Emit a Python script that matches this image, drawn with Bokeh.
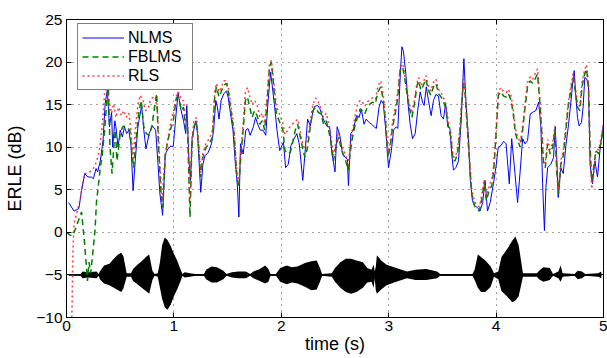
from bokeh.plotting import figure
from bokeh.models import LinearAxis, Range1d, Legend, LegendItem, FixedTicker
from bokeh.embed import file_html
from bokeh.resources import INLINE

# ---------------- data ----------------
x_ticks = [0, 1, 2, 3, 4, 5]
y_ticks = [-10, -5, 0, 5, 10, 15, 20, 25]
y_tick_labels = {-10: "\u221210", -5: "\u22125", 0: "0", 5: "5", 10: "10", 15: "15", 20: "20", 25: "25"}

nlms_t = [0.02, 0.07, 0.115, 0.14, 0.17, 0.2, 0.23, 0.25, 0.275, 0.29, 0.315, 0.34, 0.36, 0.38, 0.40, 0.42,
          0.43, 0.45, 0.46, 0.48, 0.50, 0.52, 0.54, 0.56, 0.58, 0.60, 0.62, 0.64, 0.665, 0.70, 0.72, 0.74,
          0.77, 0.80, 0.83, 0.85, 0.87, 0.895, 0.92, 0.945, 0.965, 0.994,
          1.02, 1.04, 1.06, 1.09, 1.11, 1.12, 1.14, 1.155, 1.17, 1.185, 1.205, 1.22, 1.25, 1.27, 1.29, 1.32,
          1.35, 1.37, 1.39, 1.405, 1.42, 1.44, 1.465, 1.49, 1.505, 1.525, 1.55, 1.57, 1.59, 1.605, 1.62,
          1.645, 1.67, 1.69, 1.71, 1.74, 1.76, 1.78, 1.805, 1.83, 1.855, 1.875, 1.9, 1.915, 1.94, 1.96,
          1.985, 2.02, 2.04, 2.065, 2.09, 2.12, 2.145, 2.167, 2.2, 2.22, 2.245, 2.27, 2.29, 2.31, 2.34,
          2.36, 2.385, 2.405, 2.43, 2.45, 2.47, 2.5, 2.52, 2.545, 2.57, 2.595, 2.615, 2.625, 2.647, 2.67,
          2.7, 2.725, 2.745, 2.77, 2.79, 2.818, 2.84, 2.865, 2.885, 2.91, 2.93, 2.95, 2.97, 2.998,
          3.025, 3.045, 3.07, 3.085, 3.11, 3.123, 3.138, 3.16, 3.18, 3.2, 3.222, 3.247, 3.27, 3.293,
          3.315, 3.33, 3.35, 3.37, 3.395, 3.417, 3.44, 3.463, 3.488, 3.51, 3.53, 3.55, 3.57, 3.587,
          3.603, 3.625, 3.65, 3.675, 3.69, 3.70, 3.72, 3.742, 3.76, 3.78, 3.8, 3.828, 3.85, 3.875,
          3.897, 3.92, 3.945, 3.975, 4.0, 4.02, 4.046, 4.07, 4.093, 4.123, 4.145, 4.176, 4.2, 4.225,
          4.247, 4.27, 4.293, 4.318, 4.34, 4.37, 4.396, 4.417, 4.433, 4.45, 4.464, 4.48, 4.51, 4.535,
          4.55, 4.566, 4.578, 4.603, 4.625, 4.65, 4.675, 4.696, 4.71, 4.727, 4.743, 4.758, 4.773, 4.795,
          4.81, 4.826, 4.845, 4.86, 4.875, 4.897, 4.92, 4.944, 4.97, 5.0]
nlms_v = [3.5, 2.5, 2.8, 4.9, 6.9, 6.5, 6.5, 6.3, 7.5, 7.1, 8.4, 10.8, 15.1, 16.7, 12.4, 14.1,
          10.0, 13.1, 12.4, 10.0, 12.0, 11.2, 12.4, 11.6, 12.0, 10.4, 4.9, 8.4, 12.4, 14.9, 12.0, 9.8,
          11.6, 12.5, 12.0, 8.4, 4.5, 2.0, 9.2, 9.8, 10.1, 10.1,
          13.9, 16.4, 14.7, 13.1, 11.6, 14.9, 8.4, 6.1, 11.2, 12.0, 13.1, 11.6, 4.7, 8.0, 9.0, 9.4,
          10.4, 12.0, 15.5, 14.7, 13.3, 15.5, 16.3, 16.6, 15.9, 14.1, 12.0, 8.4, 5.7, 1.8, 10.4,
          9.2, 12.0, 12.2, 11.4, 12.4, 13.5, 12.7, 12.0, 12.0, 11.4, 15.1, 18.8, 17.3, 14.5, 12.0,
          9.6, 10.6, 7.6, 8.0, 10.2, 11.0, 11.6, 10.4, 6.1, 9.2, 13.3, 12.5, 13.9, 14.8, 14.9,
          14.5, 13.5, 12.9, 12.4, 12.4, 9.4, 7.1, 12.4, 11.4, 9.2, 8.8, 8.6, 5.5, 11.6, 12.0,
          13.7, 13.5, 14.5, 12.7, 13.3, 12.9, 12.7, 12.4, 12.2, 14.7, 15.5, 15.1, 12.4, 7.6,
          9.6, 12.0, 12.4, 12.2, 19.0, 21.8, 21.2, 18.6, 15.1, 12.7, 11.0, 11.6, 14.3, 16.5,
          15.3, 14.9, 17.1, 15.5, 13.7, 15.5, 16.2, 16.0, 13.7, 13.3, 15.1, 12.4, 12.2, 9.2,
          7.3, 7.6, 8.4, 13.1, 17.5, 20.4, 15.1, 11.2, 6.1, 3.7, 3.1, 2.9, 2.5, 3.5,
          6.1, 2.5, 3.5, 5.7, 7.8, 10.0, 10.2, 10.7, 10.4, 5.7, 11.0, 6.9, 3.5, 7.3,
          11.0, 10.4, 10.8, 13.9, 14.1, 14.3, 15.3, 12.4, 5.7, 0.2, 5.3, 7.6, 8.0, 8.8,
          12.4, 8.4, 4.1, 7.6, 6.9, 10.2, 12.7, 15.3, 17.1, 19.0, 15.9, 13.5, 12.5, 12.9,
          14.7, 18.2, 18.0, 17.1, 8.0, 5.7, 8.4, 6.5, 10.0, 12.7]

fblms_t = [0.0, 0.03, 0.06, 0.10, 0.14, 0.17, 0.195, 0.21, 0.225, 0.24, 0.266, 0.28, 0.295, 0.315, 0.33,
           0.355, 0.378, 0.39, 0.405, 0.424, 0.44, 0.455, 0.47, 0.486, 0.50, 0.523, 0.547, 0.57, 0.59,
           0.61, 0.625, 0.647, 0.672, 0.695, 0.72, 0.743, 0.77, 0.795, 0.82, 0.84, 0.857, 0.88, 0.897,
           0.92, 0.945, 0.966, 0.994, 1.025, 1.05, 1.07, 1.09, 1.11, 1.127, 1.14, 1.15, 1.167, 1.185,
           1.21, 1.23, 1.25, 1.27, 1.30, 1.33, 1.36, 1.38, 1.396, 1.42, 1.44, 1.465, 1.49, 1.51, 1.535,
           1.557, 1.576, 1.59, 1.605, 1.62, 1.645, 1.666, 1.685, 1.706, 1.728, 1.752, 1.774, 1.80,
           1.824, 1.845, 1.867, 1.89, 1.907, 1.93, 1.954, 1.98, 2.015, 2.034, 2.06, 2.084, 2.11, 2.13,
           2.152, 2.177, 2.2, 2.22, 2.245, 2.27, 2.294, 2.32, 2.344, 2.37, 2.393, 2.418, 2.44, 2.46,
           2.486, 2.508, 2.533, 2.555, 2.576, 2.6, 2.623, 2.64, 2.663, 2.684, 2.709, 2.734, 2.755,
           2.777, 2.8, 2.827, 2.85, 2.876, 2.9, 2.926, 2.95, 2.97, 2.993, 3.014, 3.036, 3.06, 3.085,
           3.107, 3.13, 3.148, 3.17, 3.19, 3.216, 3.24, 3.262, 3.278, 3.3, 3.324, 3.346, 3.37, 3.392,
           3.417, 3.44, 3.463, 3.488, 3.51, 3.53, 3.556, 3.578, 3.6, 3.618, 3.64, 3.662, 3.68, 3.696,
           3.711, 3.733, 3.754, 3.773, 3.8, 3.82, 3.845, 3.866, 3.888, 3.91, 3.934, 3.96, 3.978, 4.0,
           4.021, 4.046, 4.07, 4.093, 4.114, 4.14, 4.16, 4.18, 4.2, 4.225, 4.247, 4.27, 4.293, 4.318,
           4.34, 4.362, 4.386, 4.408, 4.427, 4.442, 4.458, 4.48, 4.504, 4.526, 4.547, 4.566, 4.582,
           4.603, 4.625, 4.65, 4.671, 4.696, 4.718, 4.736, 4.758, 4.78, 4.8, 4.82, 4.842, 4.86, 4.875,
           4.89, 4.913, 4.93, 4.956, 4.98, 5.0]
fblms_v = [0.0, -0.3, -0.4, 1.0, 2.4, -1.5, -5.7, -3.5, -4.8, -3.0, 0.3, 3.7, 5.3, 7.6, 8.8,
           12.0, 15.9, 17.0, 10.0, 6.9, 10.0, 12.0, 8.4, 10.0, 11.6, 12.4, 12.5, 12.2, 12.0,
           9.2, 7.6, 10.8, 13.9, 15.5, 12.4, 11.6, 11.4, 12.5, 14.7, 16.3, 10.0, 4.5, 2.9,
           9.2, 10.8, 12.0, 13.1, 15.9, 15.5, 14.3, 14.7, 12.0, 12.4, 6.1, 1.8, 10.0, 12.4,
           13.1, 10.0, 6.5, 8.8, 10.0, 10.4, 11.2, 15.9, 17.1, 15.9, 16.5, 17.3, 17.5, 16.3, 13.9,
           12.0, 8.4, 6.1, 5.3, 8.4, 12.0, 15.5, 15.9, 14.7, 13.5, 14.3, 13.7, 12.7,
           13.1, 12.0, 15.1, 19.4, 20.0, 17.1, 13.9, 13.1, 12.0, 9.6, 9.2, 9.4, 10.8, 12.0,
           12.7, 11.2, 9.8, 8.8, 10.0, 12.4, 14.3, 14.7, 14.1, 13.9, 12.7, 13.1, 12.0, 10.8,
           8.4, 10.0, 11.2, 10.0, 9.2, 8.4, 7.3, 9.2, 11.2, 12.4, 13.5, 14.5, 14.3,
           13.9, 14.7, 15.1, 15.3, 15.1, 16.5, 17.1, 15.5, 13.1, 8.8, 10.0, 12.4, 13.9, 15.9,
           19.0, 19.4, 18.2, 16.3, 14.7, 13.5, 15.1, 17.1, 17.8, 16.7, 17.3, 18.0, 16.7, 16.1,
           17.1, 17.5, 16.3, 15.9, 15.3, 14.7, 12.4, 11.2, 8.4, 8.4, 9.2, 11.6, 15.1, 17.6,
           16.3, 12.0, 8.0, 4.5, 3.1, 2.7, 2.5, 3.9, 5.7, 3.7, 4.9, 5.5, 7.3, 11.6,
           16.1, 16.5, 16.0, 15.9, 16.3, 15.5, 13.9, 11.6, 10.8, 10.0, 12.0, 14.7, 17.1, 17.8,
           17.5, 18.0, 18.6, 15.1, 11.2, 8.0, 7.6, 10.4, 9.2, 10.0, 12.0, 6.9, 4.5,
           8.0, 9.0, 12.0, 14.7, 16.7, 18.2, 16.7, 14.7, 14.3, 17.1, 18.4, 19.2, 17.1, 10.0,
           6.1, 8.0, 9.6, 9.2, 10.8, 12.4]

rls_t = [0.05, 0.055, 0.06, 0.07, 0.09, 0.11, 0.13, 0.15, 0.17, 0.20, 0.23, 0.25, 0.27, 0.29, 0.31,
         0.337, 0.356, 0.378, 0.395, 0.418, 0.44, 0.46, 0.486, 0.51, 0.533, 0.557, 0.58, 0.60, 0.62,
         0.64, 0.666, 0.687, 0.712, 0.734, 0.76, 0.78, 0.80, 0.827, 0.848, 0.867, 0.89, 0.91, 0.935,
         0.957, 0.98, 1.006, 1.03, 1.05, 1.07, 1.09, 1.11, 1.127, 1.14, 1.15, 1.167, 1.185, 1.21,
         1.23, 1.25, 1.27, 1.30, 1.33, 1.36, 1.38, 1.396, 1.42, 1.44, 1.465, 1.49, 1.51, 1.535, 1.557,
         1.576, 1.59, 1.605, 1.62, 1.645, 1.666, 1.685, 1.706, 1.728, 1.752, 1.774, 1.80, 1.824,
         1.845, 1.867, 1.89, 1.907, 1.93, 1.954, 1.98, 2.015, 2.034, 2.06, 2.084, 2.11, 2.13, 2.152,
         2.177, 2.2, 2.22, 2.245, 2.27, 2.294, 2.32, 2.344, 2.37, 2.393, 2.418, 2.44, 2.46, 2.486,
         2.508, 2.533, 2.555, 2.576, 2.6, 2.623, 2.64, 2.663, 2.684, 2.709, 2.734, 2.755, 2.777, 2.8,
         2.827, 2.85, 2.876, 2.9, 2.926, 2.95, 2.97, 2.993, 3.014, 3.036, 3.06, 3.085, 3.107, 3.13,
         3.148, 3.17, 3.19, 3.216, 3.24, 3.262, 3.278, 3.3, 3.324, 3.346, 3.37, 3.392, 3.417, 3.44,
         3.463, 3.488, 3.51, 3.53, 3.556, 3.578, 3.6, 3.618, 3.64, 3.662, 3.68, 3.696, 3.711, 3.733,
         3.754, 3.773, 3.8, 3.82, 3.845, 3.866, 3.888, 3.91, 3.934, 3.96, 3.978, 4.0, 4.021, 4.046,
         4.07, 4.093, 4.114, 4.14, 4.16, 4.18, 4.2, 4.225, 4.247, 4.27, 4.293, 4.318, 4.34, 4.362,
         4.386, 4.408, 4.427, 4.442, 4.458, 4.48, 4.504, 4.526, 4.547, 4.566, 4.582, 4.603, 4.625,
         4.65, 4.671, 4.696, 4.718, 4.736, 4.758, 4.78, 4.8, 4.82, 4.842, 4.86, 4.875, 4.89, 4.913,
         4.93, 4.956, 4.98, 5.0]
rls_v = [-10.0, -6.0, -2.0, 1.0, 2.0, 3.0, 4.0, 5.8, 6.9, 7.0, 7.2, 7.5, 8.0, 8.8, 10.0,
         13.1, 16.7, 17.0, 15.5, 14.0, 15.1, 13.5, 14.7, 13.7, 14.3, 13.5, 14.0, 12.0, 8.4,
         12.0, 15.1, 16.1, 15.5, 14.3, 14.5, 15.5, 15.8, 16.0, 14.0, 8.4, 3.7, 7.6, 10.4,
         12.0, 13.5, 14.7, 16.5, 16.3, 15.5, 15.5, 13.0, 13.0, 7.0, 3.5, 10.5, 13.0, 13.5,
         10.5, 7.0, 9.3, 10.5, 11.0, 12.0, 16.5, 17.5, 16.5, 17.0, 17.8, 17.8, 16.8, 14.5, 12.5,
         9.0, 6.5, 5.8, 9.0, 12.8, 16.5, 17.0, 16.0, 15.0, 15.5, 15.0, 13.5, 14.0,
         12.8, 15.8, 19.8, 20.2, 17.8, 14.8, 14.0, 12.8, 11.5, 12.0, 12.5, 12.8, 13.0, 13.3,
         11.8, 10.3, 9.8, 11.0, 13.0, 15.0, 15.8, 15.3, 14.5, 13.5, 14.0, 12.8, 11.5, 9.0,
         10.5, 11.8, 10.5, 9.8, 9.0, 7.8, 9.8, 12.0, 13.5, 15.0, 15.5, 15.3, 14.8, 15.3,
         15.6, 15.8, 15.6, 17.2, 17.8, 16.0, 13.5, 9.3, 10.5, 13.0, 14.5, 16.5, 19.5, 19.8,
         18.6, 16.8, 15.2, 14.0, 15.6, 17.5, 18.2, 17.2, 17.7, 18.4, 17.2, 16.6, 17.6, 18.0,
         16.8, 16.4, 15.8, 15.2, 12.9, 11.7, 8.9, 8.8, 9.7, 12.1, 15.6, 18.0, 16.8, 12.5,
         8.5, 5.0, 3.6, 3.2, 3.0, 4.4, 6.2, 4.2, 5.4, 6.3, 7.8, 12.1, 16.6, 17.0,
         16.5, 16.4, 16.8, 16.0, 14.4, 12.1, 11.3, 10.5, 12.5, 15.2, 17.6, 18.3, 18.0, 18.6,
         19.2, 15.6, 11.7, 8.5, 8.1, 10.9, 9.7, 10.5, 12.5, 7.4, 5.0, 8.5, 9.5,
         12.5, 15.2, 17.2, 18.7, 17.2, 15.2, 14.8, 17.6, 18.9, 19.7, 17.6, 9.5, 5.1, 7.5,
         9.8, 9.7, 11.3, 12.9]

# speech waveform envelope (plotted around -5)
speech_t = [0.02, 0.13, 0.15, 0.20, 0.28, 0.30, 0.31, 0.35, 0.40, 0.44, 0.48, 0.51, 0.53, 0.56, 0.60,
            0.62, 0.66, 0.70, 0.74, 0.77, 0.80, 0.82, 0.85, 0.87, 0.89, 0.915, 0.94, 0.97, 1.0, 1.03,
            1.06, 1.08, 1.10, 1.15, 1.20, 1.28, 1.30, 1.35, 1.40, 1.46, 1.49, 1.54, 1.60, 1.67, 1.71,
            1.74, 1.80, 1.85, 1.88, 1.90, 1.95, 1.99, 2.05, 2.10, 2.15, 2.22, 2.28, 2.33, 2.36, 2.38,
            2.47, 2.50, 2.55, 2.60, 2.65, 2.70, 2.76, 2.80, 2.84, 2.86, 2.87, 2.88, 2.89, 2.93, 2.98,
            3.05, 3.12, 3.17, 3.25, 3.35, 3.45, 3.48, 3.78, 3.80, 3.83, 3.86, 3.90, 3.95, 3.98, 4.02,
            4.05, 4.10, 4.15, 4.18, 4.21, 4.25, 4.38, 4.40, 4.44, 4.50, 4.53, 4.58, 4.60, 4.62, 4.73,
            4.76, 4.80, 4.83, 4.95, 4.98]
speech_hi = [-5.0, -4.9, -4.6, -4.7, -4.6, -4.9, -4.6, -3.9, -3.7, -3.1, -2.6, -2.4, -2.8, -4.8, -4.8,
             -4.3, -3.8, -3.4, -2.9, -2.6, -4.5, -4.9, -4.8, -3.5, -1.5, -0.6, -0.9, -1.6, -2.5, -3.3,
             -4.3, -4.9, -4.7, -4.8, -4.9, -4.9, -4.4, -4.0, -4.1, -4.5, -4.9, -4.7, -4.6, -4.6, -4.9,
             -4.6, -4.3, -3.9, -4.3, -4.9, -4.9, -4.2, -3.9, -4.1, -4.0, -3.6, -3.4, -3.3, -4.2, -4.9,
             -4.8, -4.2, -3.5, -3.1, -3.1, -3.3, -3.5, -4.2, -4.4, -3.8, -4.6, -4.0, -2.7, -3.3, -3.8,
             -4.1, -4.4, -4.6, -4.4, -4.3, -4.6, -4.9, -4.9, -4.4, -2.6, -2.9, -3.3, -4.0, -4.8, -4.6,
             -2.9, -2.0, -1.0, -0.5, -1.5, -4.8, -4.8, -4.5, -4.1, -4.2, -4.9, -4.6, -3.9, -4.8, -4.9,
             -4.5, -4.6, -4.9, -4.8, -4.6]
speech_lo = [-5.0, -5.1, -5.4, -5.3, -5.4, -5.1, -5.5, -6.0, -6.2, -6.5, -6.8, -7.0, -6.6, -5.2, -5.2,
             -5.7, -6.1, -6.5, -6.9, -7.2, -5.6, -5.1, -5.2, -6.5, -7.8, -8.8, -9.1, -8.5, -7.5, -6.7,
             -5.8, -5.1, -5.3, -5.2, -5.1, -5.1, -5.5, -5.9, -5.9, -5.5, -5.1, -5.3, -5.4, -5.4, -5.1,
             -5.4, -5.7, -6.0, -5.8, -5.1, -5.1, -5.8, -6.1, -5.9, -6.0, -6.4, -6.8, -6.7, -5.8, -5.1,
             -5.2, -5.8, -6.5, -7.0, -7.2, -7.0, -6.5, -5.9, -5.8, -6.5, -5.4, -6.8, -7.2, -6.7, -6.2,
             -5.9, -5.6, -5.4, -5.6, -5.6, -5.4, -5.1, -5.1, -5.6, -6.5, -7.0, -7.0, -6.4, -5.2, -5.5,
             -6.9, -7.5, -8.2, -8.0, -7.5, -5.2, -5.2, -5.5, -5.8, -5.6, -5.1, -5.4, -5.8, -5.2, -5.1,
             -5.5, -5.4, -5.1, -5.2, -5.4]
speech_base = -5.0

FONT = "Liberation Sans"

# ---------------- figure ----------------
p = figure(width=607, height=358, output_backend="svg", toolbar_location=None,
           x_range=Range1d(0, 5), y_range=Range1d(-10, 25),
           min_border_left=66, min_border_right=4, min_border_top=19, min_border_bottom=41)
p.background_fill_color = "white"
p.border_fill_color = "white"
p.outline_line_color = "black"
p.outline_line_width = 1

# axes
p.xaxis.ticker = FixedTicker(ticks=x_ticks)
p.yaxis.ticker = FixedTicker(ticks=y_ticks)
p.yaxis.major_label_overrides = y_tick_labels
for ax in (p.xaxis[0], p.yaxis[0]):
    ax.major_tick_in = 5
    ax.major_tick_out = 0
    ax.minor_tick_line_color = None
    ax.axis_line_color = "black"
    ax.major_tick_line_color = "black"
    ax.major_label_text_font = FONT
    ax.major_label_text_font_size = "15.5px"
    ax.major_label_text_color = "black"
    ax.axis_label_text_font = FONT
    ax.axis_label_text_font_size = "18px"
    ax.axis_label_text_font_style = "normal"
    ax.axis_label_text_color = "black"
p.xaxis.axis_label = "time (s)"
p.yaxis.axis_label = "ERLE (dB)"
p.xaxis.major_label_standoff = 3
p.xaxis.axis_label_standoff = 0
p.yaxis.major_label_standoff = 4
p.yaxis.axis_label_standoff = 8

for loc in ("above", "right"):
    ax = LinearAxis(ticker=FixedTicker(ticks=x_ticks if loc == "above" else y_ticks),
                    major_tick_in=5, major_tick_out=0, minor_tick_line_color=None,
                    major_label_text_font_size="0px", major_label_standoff=0,
                    axis_line_color="black", major_label_text_color=None)
    p.add_layout(ax, loc)

# grid
for g in (p.xgrid[0], p.ygrid[0]):
    g.grid_line_color = "#333333"
    g.grid_line_dash = "1 5"
    g.grid_line_width = 1
    g.grid_line_alpha = 0.9
p.xgrid.ticker = FixedTicker(ticks=x_ticks)
p.ygrid.ticker = FixedTicker(ticks=y_ticks)

# speech waveform
p.varea(x=speech_t, y1=speech_lo, y2=speech_hi, fill_color="black")
p.line(x=[speech_t[0], speech_t[-1]], y=[speech_base, speech_base], line_color="black", line_width=1.5)

# curves
r1 = p.line(nlms_t, nlms_v, line_color="#0000ff", line_width=1)
r2 = p.line(fblms_t, fblms_v, line_color="#008000", line_width=1.5, line_dash="6 4")
r3 = p.line(rls_t, rls_v, line_color="#ff2020", line_width=1.5, line_dash="2 3", line_alpha=0.85)

legend = Legend(items=[LegendItem(label="NLMS", renderers=[r1]),
                       LegendItem(label="FBLMS", renderers=[r2]),
                       LegendItem(label="RLS", renderers=[r3])],
                location=(11, 227))
legend.margin = 0
legend.padding = 4
legend.spacing = 0
legend.glyph_width = 42
legend.glyph_height = 19
legend.label_width = 60
legend.label_standoff = 4
legend.label_text_font = FONT
legend.label_text_font_size = "16px"
legend.label_text_color = "black"
legend.border_line_color = "black"
legend.border_line_width = 1
legend.background_fill_color = "white"
legend.background_fill_alpha = 1
p.add_layout(legend, "center")

open("out.html", "w").write(file_html(p, INLINE))
